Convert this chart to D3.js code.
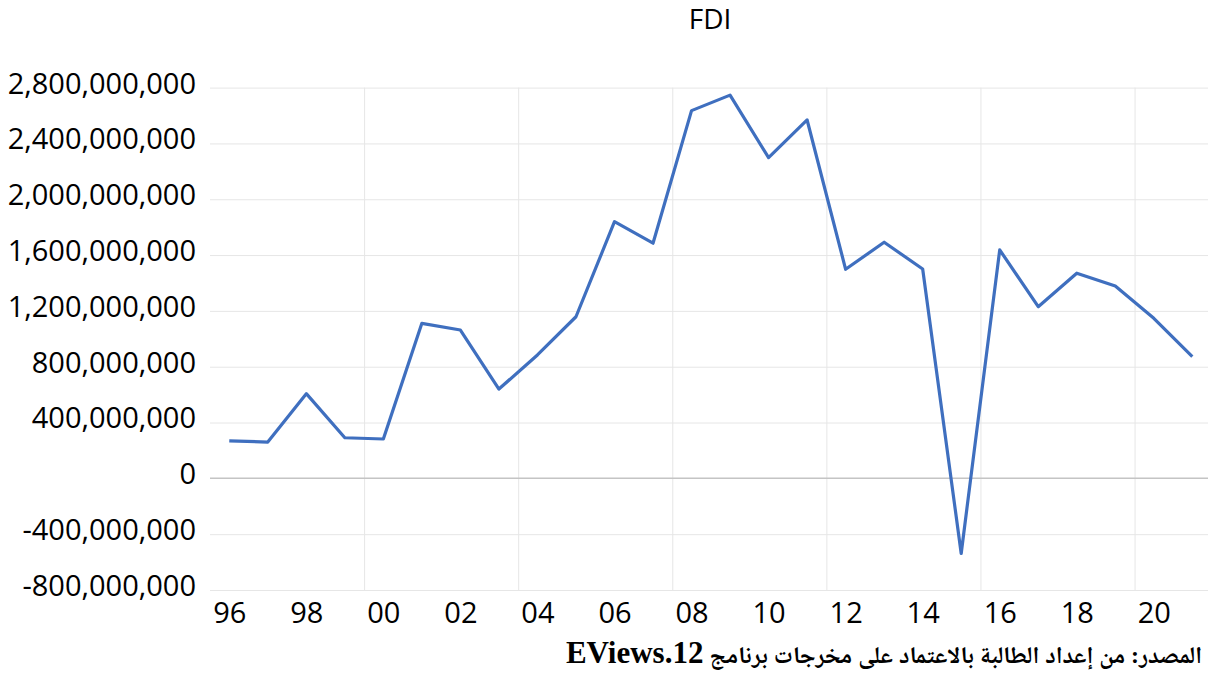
<!DOCTYPE html>
<html>
<head>
<meta charset="utf-8">
<script src="https://cdn.jsdelivr.net/npm/d3@7"></script>
<style>
    body { margin: 0; background: #fff; }
    .grid line { stroke: #e6e6e6; stroke-width: 1; }
    .grid .domain { display: none; }
    .axis .domain { display: none; }
    .axis text { font-family: 'Open Sans', sans-serif; font-size: 29px; fill: #000; }
</style>
</head>
<body>
<svg id="chart" width="1208" height="678"></svg>
<script>
// anos e valores do FDI
const anos = [1996, 1997, 1998, 1999, 2000, 2001, 2002, 2003, 2004, 2005, 2006, 2007, 2008,
    2009, 2010, 2011, 2012, 2013, 2014, 2015, 2016, 2017, 2018, 2019, 2020, 2021];
const fdi = [269e6, 260e6, 607e6, 291e6, 282e6, 1111e6, 1063e6, 640e6, 884e6, 1158e6, 1839e6, 1685e6, 2635e6,
    2746e6, 2298e6, 2568e6, 1498e6, 1692e6, 1500e6, -538e6, 1637e6, 1230e6, 1470e6, 1378e6, 1147e6, 872e6];
const yTicks = [-800e6, -400e6, 0, 400e6, 800e6, 1200e6, 1600e6, 2000e6, 2400e6, 2800e6];
const xTicks = [1996, 1998, 2000, 2002, 2004, 2006, 2008, 2010, 2012, 2014, 2016, 2018, 2020];
const xGrid = [1999.5, 2003.5, 2007.5, 2011.5, 2015.5, 2019.5];
const titulo = 'FDI';
const fonteAr = 'المصدر: من إعداد الطالبة بالاعتماد على مخرجات برنامج ';
const fonteLat = 'EViews.12';

function desenhar_fdi(div) {
    const svg = d3.select(div);
    const dados = anos.map((a, i) => ({ ano: a, valor: fdi[i] }));

    const left = 210, right = 1211.6, top = 87.6, bottom = 590;

    const xScale = d3.scaleLinear()
        .domain([1995.5, 2021.5])
        .range([left, right]);

    const yScale = d3.scaleLinear()
        .domain([-800e6, 2800e6])
        .range([bottom, top]);

    const locale = d3.formatLocale({ decimal: '.', thousands: ',', grouping: [3], currency: ['$', ''], minus: '-' });
    const fmt = locale.format(',');

    /*grade horizontal*/
    svg.append('g')
        .attr('class', 'grid')
        .attr('transform', `translate(${left}, 0)`)
        .call(d3.axisLeft(yScale)
            .tickValues(yTicks.filter(d => d !== 0))
            .tickSize(-(1208 - left))
            .tickFormat('')
        );

    /*grade vertical*/
    svg.append('g')
        .attr('class', 'grid')
        .attr('transform', `translate(0, ${bottom})`)
        .call(d3.axisBottom(xScale)
            .tickValues(xGrid)
            .tickSize(-(bottom - top))
            .tickFormat('')
        );

    /*linha do zero*/
    svg.append('line')
        .attr('x1', left)
        .attr('x2', 1208)
        .attr('y1', yScale(0))
        .attr('y2', yScale(0))
        .attr('stroke', '#c4c4c4')
        .attr('stroke-width', 1.5);

    /*eixo y*/
    svg.append('g')
        .attr('class', 'axis')
        .attr('transform', 'translate(196, 0)')
        .call(d3.axisLeft(yScale)
            .tickValues(yTicks)
            .tickSize(0)
            .tickPadding(0)
            .tickFormat(fmt)
        )
        .selectAll('text')
        .attr('dy', null)
        .attr('y', 5.4);

    /*eixo x*/
    svg.append('g')
        .attr('class', 'axis')
        .attr('transform', `translate(0, ${bottom})`)
        .call(d3.axisBottom(xScale)
            .tickValues(xTicks)
            .tickSize(0)
            .tickPadding(0)
            .tickFormat(d => String(d).slice(2))
        )
        .selectAll('text')
        .attr('dy', null)
        .attr('y', 33);

    /*linha*/
    const line = d3.line()
        .x(d => xScale(d.ano))
        .y(d => yScale(d.valor));

    svg.append('path')
        .datum(dados)
        .attr('fill', 'none')
        .attr('stroke', '#3f6fbf')
        .attr('stroke-width', 3.2)
        .attr('stroke-linejoin', 'round')
        .attr('d', line);

    /*titulo*/
    svg.append('text')
        .attr('x', 710)
        .attr('y', 29)
        .attr('text-anchor', 'middle')
        .style('font-family', "'Open Sans', sans-serif")
        .style('font-size', '28px')
        .text(titulo);

    /*fonte*/
    const nota = svg.append('text')
        .attr('x', 1202)
        .attr('y', 663)
        .attr('direction', 'rtl')
        .attr('text-anchor', 'start')
        .style('font-family', "'Liberation Serif', 'Noto Naskh Arabic', 'DejaVu Sans', serif")
        .style('font-weight', 'bold');

    nota.append('tspan')
        .style('font-size', '24px')
        .text(fonteAr);

    nota.append('tspan')
        .style('font-size', '31px')
        .text(fonteLat);
}

desenhar_fdi('#chart');
</script>
</body>
</html>
